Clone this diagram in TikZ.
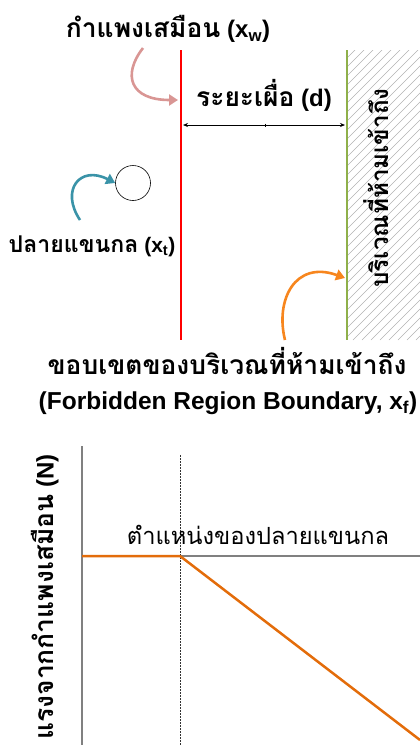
\documentclass[tikz,border=0pt]{standalone}
\usepackage{fontspec}
\setmainfont{Liberation Sans}
\newfontfamily\thai[Script=Thai,Scale=1.1]{Loma}
\usetikzlibrary{arrows.meta}
\definecolor{wallred}{HTML}{FF0000}
\definecolor{bgreen}{HTML}{8FB04A}
\definecolor{pinkarr}{HTML}{D99694}
\definecolor{tealarr}{HTML}{3A93A8}
\definecolor{orgarr}{HTML}{F7861E}
\definecolor{plotorg}{HTML}{E36C0A}
\definecolor{axgray}{HTML}{808080}
\tikzset{
  lbl/.style={inner sep=0pt, font=\bfseries},
  curvarr/.style={line width=2.6pt, -{Triangle[length=9pt,width=11pt]}},
}
\begin{document}
\begin{tikzpicture}[x=1pt,y=-1pt]
\useasboundingbox (0,0) rectangle (420,745);
% hatched forbidden region
\begin{scope}
\clip (347,50) rectangle (420,340);
\foreach \i in {-300,-291,...,80} \draw[gray!60, line width=0.5pt] (347+\i,340) -- ++(300,-300);
\end{scope}
\node[lbl, rotate=90] (region) at (376,188) {\fontsize{22}{24}\selectfont\thai\bfseries บริเวณที่ห้ามเข้าถึง};
% walls
\coordinate (wtop) at (181,50);
\coordinate (wbot) at (181,340);
\coordinate (btop) at (347,50);
\coordinate (bbot) at (347,340);
\draw[wallred, line width=2.5pt] (wtop) -- (wbot);
\draw[bgreen, line width=2.5pt] (btop) -- (bbot);
% dimension
\coordinate (dl) at (183,125);
\coordinate (dr) at (345,125);
\coordinate (dm) at (265,125);
\draw[line width=0.7pt, {Stealth[length=5pt,width=4pt]}-{Stealth[length=5pt,width=4pt]}] (dl) -- (dr);
\draw[line width=0.5pt] (dm) ++(0,-1.5) -- ++(0,3);
\node[lbl] (dlabel) at (264,95) {\fontsize{24}{26}\selectfont{\thai\bfseries ระยะเผื่อ} (d)};
% title
\node[lbl] (title) at (168,29) {\fontsize{24}{26}\selectfont{\thai\bfseries กำแพงเสมือน} (x\textsubscript{w})};
\coordinate (p0) at (143,48);
\draw[pinkarr, curvarr] (p0) .. controls (122,75) and (130,100) .. (178,100);
% tool tip
\node[draw, circle, minimum size=35pt, inner sep=0pt, line width=0.6pt] (tip) at (133,183) {};
\coordinate (t0) at (80,220);
\draw[tealarr, curvarr] (t0) .. controls (60,190) and (80,165) .. (tip.west);
\node[lbl] (tiplabel) at (92,246) {\fontsize{21}{24}\selectfont{\thai\bfseries ปลายแขนกล} (x\textsubscript{t})};
% boundary arrow
\coordinate (o0) at (285,340);
\draw[orgarr, curvarr] (o0) .. controls (275,300) and (295,260) .. (345,278);
\node[lbl] (bnd1) at (227,361) {\fontsize{24}{28}\selectfont\thai\bfseries ขอบเขตของบริเวณที่ห้ามเข้าถึง};
\node[lbl] (bnd2) at (228,403) {\fontsize{24.5}{28}\selectfont(Forbidden Region Boundary, x\textsubscript{f})};
% graph
\coordinate (ytop) at (82,446);
\coordinate (ybot) at (82,745);
\coordinate (o) at (82,556);
\coordinate (xr) at (420,556);
\coordinate (k) at (180,556);
\coordinate (dtop) at (180,455);
\coordinate (dbot) at (180,745);
\coordinate (fend) at (420,740);
\draw[axgray, line width=1.5pt] (ytop) -- (ybot);
\draw[axgray, line width=1.5pt] (o) -- (xr);
\draw[black!80, dash pattern=on 2pt off 1pt, line width=0.5pt] (dtop) -- (dbot);
\draw[plotorg, line width=2.5pt] (o) -- (k) -- (fend);
\node[inner sep=0pt] (xlabel) at (258,535) {\fontsize{21.5}{24}\selectfont\thai ตำแหน่งของปลายแขนกล};
\node[lbl, rotate=90] (ylabel) at (45,597) {\fontsize{24}{26}\selectfont{\thai\bfseries แรงจากกำแพงเสมือน} (N)};
\end{tikzpicture}
\end{document}
